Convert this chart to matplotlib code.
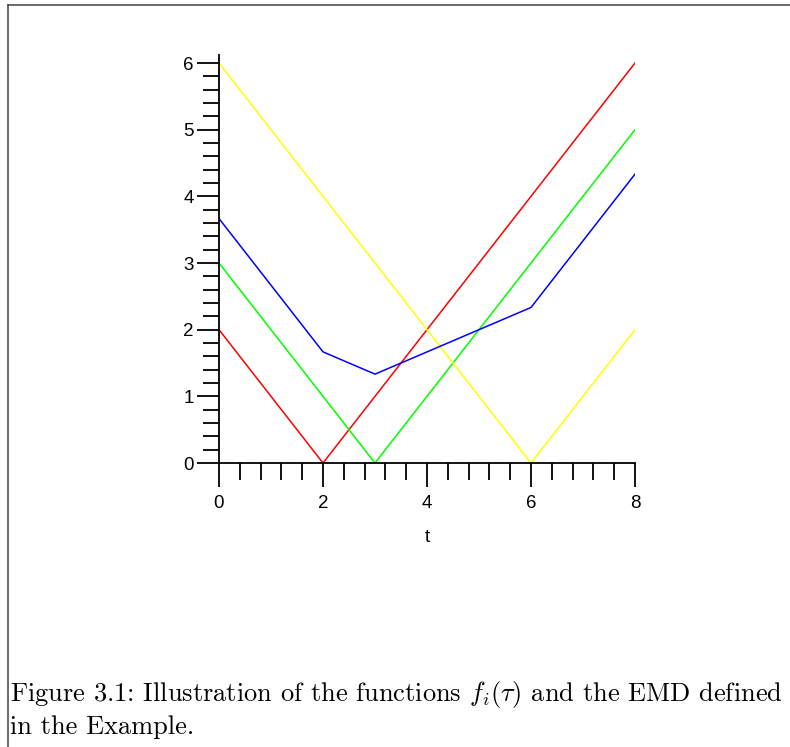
import matplotlib.pyplot as plt
from matplotlib.lines import Line2D
from matplotlib.ticker import MultipleLocator

# data
t_red = [0, 2, 8]
f_red = [2, 0, 6]
t_green = [0, 3, 8]
f_green = [3, 0, 5]
t_yellow = [0, 6, 8]
f_yellow = [6, 0, 2]
t_blue = [0, 2, 3, 6, 8]
f_blue = [3.667, 1.667, 1.333, 2.333, 4.333]

plt.rcParams["font.family"] = ["Liberation Sans", "DejaVu Sans"]
plt.rcParams["mathtext.fontset"] = "cm"

W, H = 790, 747
fig = plt.figure(figsize=(W / 100, H / 100), dpi=100)

# axes placed in pixel terms
x0, x1 = 219, 635
y0, y1 = 463, 55
ax = fig.add_axes([x0 / W, (H - y0) / H, (x1 - x0) / W, (y0 - y1) / H])

ax.plot(t_red, f_red, color="red", lw=1.1)
ax.plot(t_green, f_green, color="#00ff00", lw=1.1)
ax.plot(t_yellow, f_yellow, color="yellow", lw=1.1)
ax.plot(t_blue, f_blue, color="blue", lw=1.1)

ax.set_xlim(0, 8)
ax.set_ylim(0, 6.12)

for s in ("top", "right"):
    ax.spines[s].set_visible(False)
for s in ("left", "bottom"):
    ax.spines[s].set_linewidth(1.3)
ax.patch.set_visible(False)

ax.xaxis.set_major_locator(MultipleLocator(2))
ax.xaxis.set_minor_locator(MultipleLocator(0.4))
ax.yaxis.set_major_locator(MultipleLocator(1))
ax.yaxis.set_minor_locator(MultipleLocator(0.2))

ax.tick_params(axis="x", which="major", direction="out", length=17, width=1.3,
               pad=6, labelsize=13.5)
ax.tick_params(axis="x", which="minor", direction="out", length=12, width=1.3)
ax.tick_params(axis="y", which="major", direction="out", length=16, width=1.3,
               pad=2, labelsize=13.5)
ax.tick_params(axis="y", which="minor", direction="out", length=11.5, width=1.3)

ax.set_xlabel("t", fontsize=13.5, labelpad=12)

# frame around the figure
fig.add_artist(Line2D([8 / W, 1], [1 - 5 / H, 1 - 5 / H], color="#444444", lw=1.1))
fig.add_artist(Line2D([8 / W, 8 / W], [0, 1 - 5 / H], color="#444444", lw=1.1))

fig.text(10 / W, 1 - 694 / H,
         r"Figure 3.1: Illustration of the functions $f_i(\tau)$ and the EMD defined",
         fontfamily="cmr10", fontsize=19, va="center", ha="left")
fig.text(10 / W, 1 - 727 / H, "in the Example.",
         fontfamily="cmr10", fontsize=19, va="center", ha="left")

plt.savefig("out.png", dpi=100)
